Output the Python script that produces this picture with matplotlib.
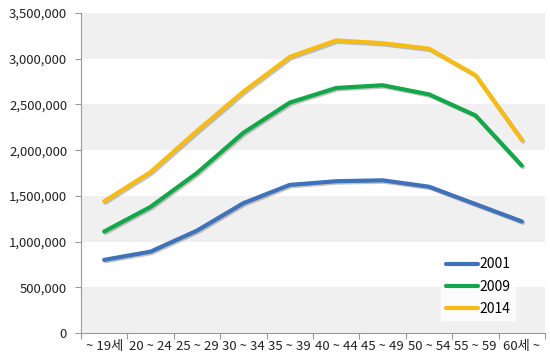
import matplotlib
matplotlib.use("Agg")
import matplotlib.pyplot as plt
import matplotlib.patheffects as pe
import numpy as np

plt.rcParams['font.family'] = ['Noto Sans CJK KR', 'DejaVu Sans']

categories = ["~ 19세", "20 ~ 24", "25 ~ 29", "30 ~ 34", "35 ~ 39",
              "40 ~ 44", "45 ~ 49", "50 ~ 54", "55 ~ 59", "60세 ~"]
s2001 = [800000, 890000, 1120000, 1420000, 1620000, 1660000, 1670000, 1600000, 1410000, 1220000]
s2009 = [1110000, 1380000, 1750000, 2190000, 2520000, 2680000, 2710000, 2610000, 2380000, 1830000]
s2014 = [1440000, 1760000, 2210000, 2640000, 3020000, 3200000, 3170000, 3110000, 2820000, 2110000]
series_names = ["2001", "2009", "2014"]
colors = ["#3f72b8", "#12a84a", "#f6bc14"]
yticks = [0, 500000, 1000000, 1500000, 2000000, 2500000, 3000000, 3500000]

fig = plt.figure(figsize=(5.5, 3.63), dpi=100)
ax = fig.add_axes([81/550, 1 - 333/363, (545-81)/550, (333-13)/363])

x = np.arange(len(categories))
ax.set_xlim(-0.5, len(categories) - 0.5)
ax.set_ylim(0, 3500000)

# alternating bands
for i in range(0, len(yticks) - 1):
    if i % 2 == 0:
        ax.axhspan(yticks[i], yticks[i + 1], color="#f0f0f0", lw=0, zorder=0)

shadow = [pe.SimpleLineShadow(offset=(1, -1), shadow_color="#888888", alpha=0.5), pe.Normal()]
for vals, name, c in zip([s2001, s2009, s2014], series_names, colors):
    ax.plot(x, vals, color=c, lw=3.0, label=name, solid_capstyle="round",
            solid_joinstyle="round", path_effects=shadow, zorder=3)

ax.set_yticks(yticks)
ax.set_yticklabels([f"{v:,}" for v in yticks], fontsize=9.5, color="#222222")
ax.set_xticks(np.arange(-0.5, len(categories), 1.0))
ax.set_xticklabels([])
ax.set_xticks(x, minor=True)
ax.set_xticklabels(categories, minor=True, fontsize=9.5, color="#222222")
ax.tick_params(axis="x", which="minor", length=0, pad=5)
ax.tick_params(axis="x", which="major", length=4, color="#999999")
ax.tick_params(axis="y", length=4, color="#999999", pad=6)

for s in ["top", "right"]:
    ax.spines[s].set_visible(False)
for s in ["left", "bottom"]:
    ax.spines[s].set_color("#999999")
    ax.spines[s].set_linewidth(0.8)

leg = ax.legend(loc="lower right", bbox_to_anchor=(0.935, 0.04), frameon=True,
                fontsize=10, handlelength=2.3, handletextpad=0.15, labelspacing=0.6,
                borderpad=0.3, borderaxespad=0.0, fancybox=False)
leg.get_frame().set_facecolor("white")
leg.get_frame().set_edgecolor("white")
for h in leg.get_lines():
    h.set_path_effects([])
    h.set_linewidth(3)

fig.savefig("out.png", dpi=100)
